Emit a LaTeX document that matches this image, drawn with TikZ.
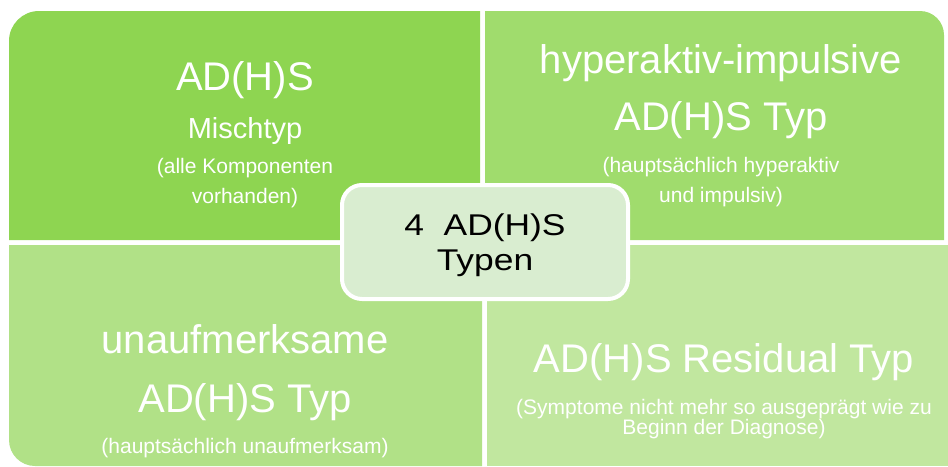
\documentclass[tikz,border=0pt]{standalone}
\usepackage{fontspec}
\setmainfont{Liberation Sans}

\definecolor{qtl}{RGB}{142,213,81}
\definecolor{qtr}{RGB}{160,220,109}
\definecolor{qbl}{RGB}{177,225,135}
\definecolor{qbr}{RGB}{193,231,159}
\definecolor{hubfill}{RGB}{217,237,208}

\tikzset{
  big/.style={anchor=base, text=white, font=\fontsize{40}{44}\selectfont},
  mid/.style={anchor=base, text=white, font=\fontsize{29}{32}\selectfont},
  small/.style={anchor=base, text=white, font=\fontsize{21}{24}\selectfont},
  hub/.style={draw=white, line width=4pt, fill=hubfill, rounded corners=20pt,
    minimum width=286pt, minimum height=114pt},
  hubtext/.style={anchor=base, text=black, font=\fontsize{30}{34}\selectfont}
}

\begin{document}
\begin{tikzpicture}[x=1pt, y=-1pt]
    \useasboundingbox (0,0) rectangle (948,466);
    % four quadrants, outer corner rounded
    \fill[qtl] (480,240) -- (9,240) [rounded corners=30pt] -- (9,11) [sharp corners] -- (480,11) -- cycle;
    \fill[qtr] (485,240) -- (485,11) [rounded corners=24pt] -- (944,11) [sharp corners] -- (944,240) -- cycle;
    \fill[qbl] (482,245) -- (9,245) [rounded corners=26pt] -- (9,466) [sharp corners] -- (482,466) -- cycle;
    \fill[qbr] (487,245) rectangle (948,466);

    % top left
    \node[big] (tlA) at (245,90) {AD(H)S};
    \node[mid] (tlB) at (245,138) {Mischtyp};
    \node[small] (tlC) at (245,173) {(alle Komponenten};
    \node[small] (tlD) at (245,203) {vorhanden)};

    % top right
    \node[big] (trA) at (721,73) {hyperaktiv-impulsive};
    \node[big] (trB) at (721,130) {AD(H)S Typ};
    \node[small] (trC) at (721,172) {(hauptsächlich hyperaktiv};
    \node[small] (trD) at (721,202) {und impulsiv)};

    % bottom left
    \node[big] (blA) at (245,353) {unaufmerksame};
    \node[big] (blB) at (245,412) {AD(H)S Typ};
    \node[small] (blC) at (245,453) {(hauptsächlich unaufmerksam)};

    % bottom right
    \node[big] (brA) at (724,372) {AD(H)S Residual Typ};
    \node[small] (brB) at (724,414) {(Symptome nicht mehr so ausgeprägt wie zu};
    \node[small] (brC) at (724,434) {Beginn der Diagnose)};

    % centre
    \node[hub] (hub) at (485,242) {};
    \node[hubtext] (hubA) at (485,235) {\scalebox{1.18}[1]{4\ \ AD(H)S}};
    \node[hubtext] (hubB) at (485,270) {\scalebox{1.18}[1]{Typen}};
\end{tikzpicture}
\end{document}
